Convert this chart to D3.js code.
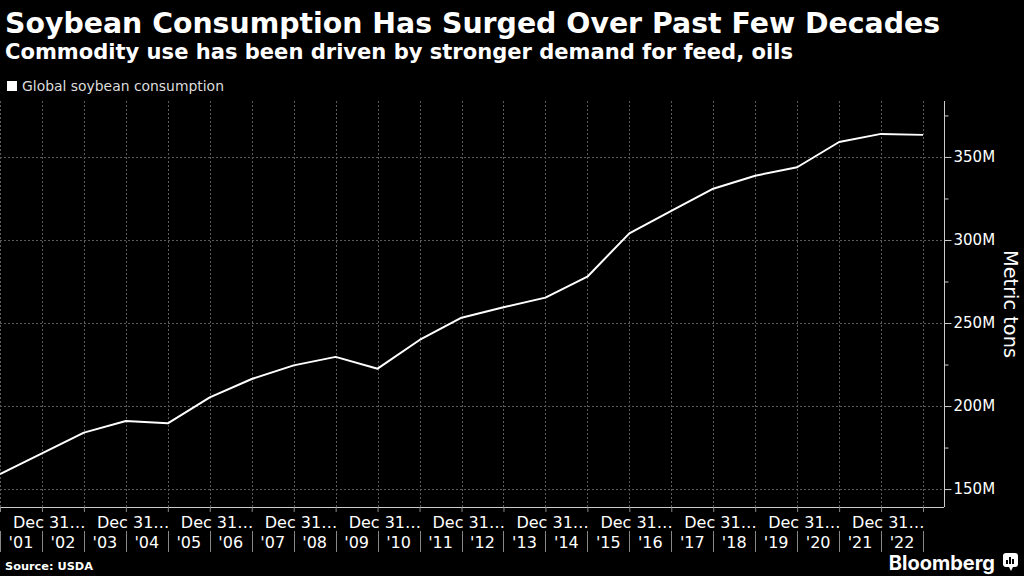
<!DOCTYPE html>
<html>
<head>
<meta charset="utf-8">
<script src="https://cdn.jsdelivr.net/npm/d3@7/dist/d3.min.js"></script>
<style>
  html, body { margin: 0; padding: 0; background: #000; }
  svg { display: block; }
  text { font-family: "DejaVu Sans", sans-serif; fill: #fff; }
</style>
</head>
<body>
<svg id="chart" width="1024" height="576"></svg>
<script>
// ---- data ----
const years = [2000, 2001, 2002, 2003, 2004, 2005, 2006, 2007, 2008, 2009, 2010, 2011,
               2012, 2013, 2014, 2015, 2016, 2017, 2018, 2019, 2020, 2021, 2022];
const consumption = [159, 171.5, 184, 191, 189.6, 205.2, 216.3, 224.5, 229.6, 222.5, 239.8, 253.2,
                     259.5, 265.3, 277.9, 304, 317.5, 330.9, 338.7, 343.8, 359, 363.9, 363.3];
const yearLabels = ["'01","'02","'03","'04","'05","'06","'07","'08","'09","'10","'11",
                    "'12","'13","'14","'15","'16","'17","'18","'19","'20","'21","'22"];
const yTicks = [150, 200, 250, 300, 350];
const yMinorTicks = [175, 225, 275, 325, 375];
const title = "Soybean Consumption Has Surged Over Past Few Decades";
const subtitle = "Commodity use has been driven by stronger demand for feed, oils";
const legendLabel = "Global soybean consumption";
const yAxisTitle = "Metric tons";
const source = "Source: USDA";

const svg = d3.select("#chart");
const plot = { left: 0, right: 944, top: 101, bottom: 507 };

const x = d3.scaleLinear().domain([2000, 2022.5]).range([plot.left, plot.right]);
const y = d3.scaleLinear().domain([139.2, 383.7]).range([plot.bottom, plot.top]);

function fitText(sel, w) {
  const node = sel.node();
  const fs = parseFloat(sel.attr("font-size"));
  const len = node.getComputedTextLength();
  sel.attr("font-size", (fs * w / len).toFixed(2));
}

// titles
svg.append("text").attr("x", 5).attr("y", 33).attr("font-size", 28)
  .attr("font-weight", "bold").text(title).call(fitText, 935);
svg.append("text").attr("x", 5).attr("y", 59).attr("font-size", 20)
  .attr("font-weight", "bold").text(subtitle).call(fitText, 788);

// legend
svg.append("rect").attr("x", 7).attr("y", 81).attr("width", 10).attr("height", 10).attr("fill", "#fff");
svg.append("text").attr("x", 22).attr("y", 91).attr("font-size", 14)
  .style("fill", "#ddd").text(legendLabel).call(fitText, 202);

// gridlines
const grid = svg.append("g").attr("stroke", "#5a5a5a").attr("stroke-width", 1)
  .attr("stroke-dasharray", "2,2");
grid.selectAll("line.v").data(years).join("line")
  .attr("x1", d => Math.round(x(d)) + 0.5).attr("x2", d => Math.round(x(d)) + 0.5)
  .attr("y1", plot.top).attr("y2", plot.bottom);
grid.selectAll("line.h").data(yTicks).join("line")
  .attr("x1", plot.left).attr("x2", plot.right)
  .attr("y1", d => Math.round(y(d)) + 0.5).attr("y2", d => Math.round(y(d)) + 0.5);

// y axis (right)
const yAxisG = svg.append("g").attr("transform", `translate(${plot.right + 0.5},0)`)
  .call(d3.axisRight(y).tickValues(yTicks).tickSize(7).tickPadding(2).tickFormat(d => d + "M"));
yAxisG.select(".domain").attr("stroke", "#ccc").attr("d", `M0,${plot.top}V${plot.bottom}`);
yAxisG.selectAll(".tick line").attr("stroke", "#ccc");
yAxisG.selectAll(".tick text").attr("font-size", 15).attr("font-family", "DejaVu Sans").style("fill", "#fff");
const yMinor = svg.append("g").attr("transform", `translate(${plot.right + 0.5},0)`)
  .call(d3.axisRight(y).tickValues(yMinorTicks).tickSize(4).tickFormat(""));
yMinor.select(".domain").remove();
yMinor.selectAll(".tick line").attr("stroke", "#ccc");

svg.append("text").attr("transform", `translate(1004, 304) rotate(90)`)
  .attr("text-anchor", "middle")
  .attr("font-size", 18).text(yAxisTitle).call(fitText, 108);

// x axis (bottom)
svg.append("line").attr("x1", plot.left).attr("x2", plot.right)
  .attr("y1", plot.bottom + 0.5).attr("y2", plot.bottom + 0.5).attr("stroke", "#ccc");
const xAxisG = svg.append("g").attr("transform", `translate(0,${plot.bottom})`)
  .call(d3.axisBottom(x).tickValues(years).tickSize(5).tickFormat(""));
xAxisG.select(".domain").remove();
xAxisG.selectAll(".tick line").attr("stroke", "#888");
// year separators in the lower label row
svg.append("g").selectAll("line").data(years).join("line")
  .attr("x1", d => Math.round(x(d)) + 0.5).attr("x2", d => Math.round(x(d)) + 0.5)
  .attr("y1", 531).attr("y2", 552).attr("stroke", "#888");

svg.append("g").selectAll("text").data(yearLabels).join("text")
  .attr("x", (d, i) => x(years[i] + 0.5)).attr("y", 548)
  .attr("text-anchor", "middle").attr("font-size", 16).text(d => d);
svg.append("g").selectAll("text").data(yearLabels.filter((d, i) => i % 2 === 0)).join("text")
  .attr("x", (d, i) => x(years[i * 2]) + 13).attr("y", 528)
  .attr("font-size", 16).text("Dec 31\u2026");

// line
svg.append("path").datum(years.map((d, i) => [d, consumption[i]]))
  .attr("fill", "none").attr("stroke", "#fff").attr("stroke-width", 2)
  .attr("stroke-linejoin", "round")
  .attr("d", d3.line().x(d => x(d[0])).y(d => y(d[1])));

// footer
svg.append("text").attr("x", 5).attr("y", 570).attr("font-size", 14).attr("font-weight", "bold")
  .text(source).call(fitText, 88);
svg.append("text").attr("x", 995).attr("y", 570).attr("text-anchor", "end")
  .attr("font-size", 20).attr("font-weight", "bold")
  .style("font-family", "Inter, 'DejaVu Sans', sans-serif").text("Bloomberg");
const logo = svg.append("g").attr("transform", "translate(1003,553)");
logo.append("rect").attr("width", 15).attr("height", 14).attr("rx", 3).attr("fill", "#fff");
logo.append("path").attr("d", "M6,14 L8,18 L10,14 Z").attr("fill", "#fff");
logo.selectAll("rect.bar").data([[3, 7], [6, 4], [9, 6]]).join("rect")
  .attr("x", d => d[0]).attr("y", d => d[1]).attr("width", 2).attr("height", d => 11 - d[1]).attr("fill", "#000");
</script>
</body>
</html>
